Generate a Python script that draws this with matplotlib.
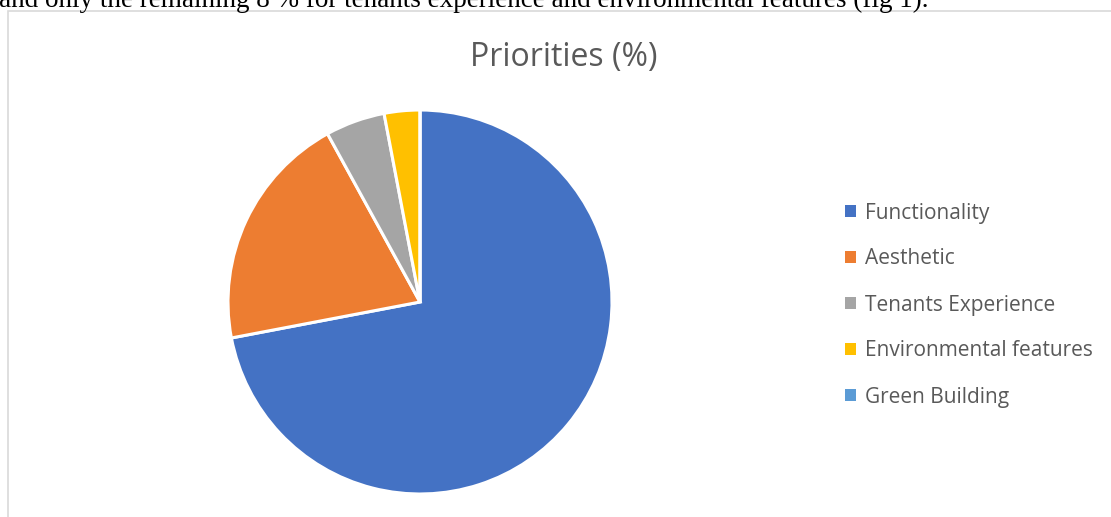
import matplotlib.pyplot as plt
from matplotlib.patches import Patch, Rectangle

# === Data ===
labels = ['Functionality', 'Aesthetic', 'Tenants Experience',
          'Environmental features', 'Green Building']
values = [72, 20, 5, 3, 0]
colors = ['#4472C4', '#ED7D31', '#A5A5A5', '#FFC000', '#5B9BD5']
title = 'Priorities (%)'
caption = 'and only the remaining 8 % for tenants experience and environmental features (fig 1).'

W, H = 1111, 517
fig = plt.figure(figsize=(W / 100, H / 100), dpi=100)

# chart frame (partly cut off at right/bottom, like the document screenshot)
fig.patches.append(Rectangle((8 / W, -0.1), 1.2, 1 - 11 / H + 0.1,
                             transform=fig.transFigure, fill=False,
                             edgecolor='#D9D9D9', linewidth=1.2))

# text line of the surrounding document, cut at the top
fig.text(-1 / W, 1 - 7 / H, caption, family='Liberation Serif',
         fontsize=19.5, color='black', va='baseline', ha='left')

fig.text(564 / W, 1 - 66 / H, title, family='Open Sans', fontsize=23,
         color='#595959', ha='center', va='baseline')

# pie
ax = fig.add_axes([228 / W, 23 / H, 384 / W, 384 / H])
nonzero = [v if v > 0 else 1e-9 for v in values]
ax.pie(nonzero, colors=colors, startangle=90, counterclock=False,
       radius=1.0, wedgeprops=dict(edgecolor='white', linewidth=2.2))
ax.set_xlim(-1, 1)
ax.set_ylim(-1, 1)
ax.set_aspect('equal')
ax.axis('off')

handles = [Patch(facecolor=c, edgecolor='none') for c in colors]
fig.legend(handles, labels, loc='center left',
           bbox_to_anchor=(845 / W, 1 - 305 / H), frameon=False,
           prop=dict(family='Open Sans', size=15), labelcolor='#595959',
           handlelength=0.55, handleheight=0.55, handletextpad=0.4,
           labelspacing=1.2, borderpad=0, borderaxespad=0)

fig.savefig('out.png', dpi=100)
